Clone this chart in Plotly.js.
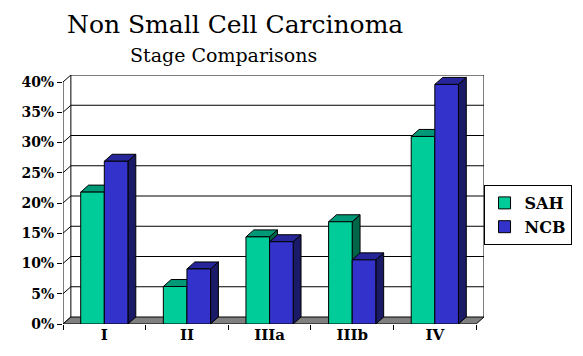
<!DOCTYPE html>
<html>
<head>
<meta charset="utf-8">
<script src="https://cdn.plot.ly/plotly-3.0.1.min.js"></script>
<style>html,body{margin:0;padding:0;background:#fff;}#chart{width:583px;height:356px;}</style>
</head>
<body>
<div id="chart"></div>
<script>
// ---- data ----
const categories = ['I', 'II', 'IIIa', 'IIIb', 'IV'];
const sahValues = [21.8, 6.2, 14.4, 16.9, 31.0];
const ncbValues = [26.9, 9.1, 13.6, 10.6, 39.6];
const yTickValues = [0, 5, 10, 15, 20, 25, 30, 35, 40];
const seriesNames = ['SAH', 'NCB'];

// ---- style ----
const FONT = '"DejaVu Serif", serif';
const sahFront = '#00CC99', sahTop = '#009977', sahSide = '#006647';
const ncbFront = '#3333CC', ncbTop = '#26269A', ncbSide = '#1A1A66';
const bargap = 0.4286;
const w = (1 - bargap) / 2;
const D = 8 / 84;
const H = 7 / 6.05;
const yMax = 40;
const xs = categories.map((c, i) => i);
const x0 = -0.5, x1 = categories.length - 0.5;

const shapes = [];
const L = {color: '#000', width: 1};
yTickValues.forEach(v => {
  if (v > 0) shapes.push({type: 'line', xref: 'x', yref: 'y', x0: x0 + D, x1: x1 + D, y0: v + H, y1: v + H, line: L, layer: 'below'});
});
shapes.push({type: 'line', xref: 'x', yref: 'y', x0: x0 + D, x1: x0 + D, y0: H, y1: yMax + H, line: L, layer: 'below'});
shapes.push({type: 'line', xref: 'x', yref: 'y', x0: x1 + D, x1: x1 + D, y0: H, y1: yMax + H, line: L, layer: 'below'});
yTickValues.forEach(v => {
  shapes.push({type: 'line', xref: 'x', yref: 'y', x0: x0, x1: x0 + D, y0: v, y1: v + H, line: L, layer: 'below'});
});
shapes.push({type: 'line', xref: 'x', yref: 'y', x0: x0, x1: x0, y0: 0, y1: yMax, line: L, layer: 'below'});
shapes.push({type: 'path', xref: 'x', yref: 'y',
  path: `M ${x0},0 L ${x1},0 L ${x1 + D},${H} L ${x0 + D},${H} Z`,
  fillcolor: '#808080', line: L, layer: 'below'});

function faces(left, right, v, topC, sideC) {
  shapes.push({type: 'path', xref: 'x', yref: 'y',
    path: `M ${right},0 L ${right},${v} L ${right + D},${v + H} L ${right + D},${H} Z`,
    fillcolor: sideC, line: L, layer: 'below'});
  shapes.push({type: 'path', xref: 'x', yref: 'y',
    path: `M ${left},${v} L ${right},${v} L ${right + D},${v + H} L ${left + D},${v + H} Z`,
    fillcolor: topC, line: L, layer: 'below'});
}
xs.forEach((x, i) => {
  faces(x - w, x, sahValues[i], sahTop, sahSide);
  faces(x, x + w, ncbValues[i], ncbTop, ncbSide);
});

const traces = [
  {type: 'bar', name: seriesNames[0], x: xs, y: sahValues, marker: {color: sahFront, line: {color: '#000', width: 1}}, hoverinfo: 'skip'},
  {type: 'bar', name: seriesNames[1], x: xs, y: ncbValues, marker: {color: ncbFront, line: {color: '#000', width: 1}}, hoverinfo: 'skip'}
];

const layout = {
  width: 583, height: 356,
  margin: {l: 63, r: 92, t: 75, b: 32, pad: 0},
  paper_bgcolor: '#fff', plot_bgcolor: '#fff',
  font: {family: FONT, color: '#000'},
  barmode: 'group', bargap: bargap, bargroupgap: 0,
  annotations: [
    {text: 'Non Small Cell Carcinoma', xref: 'paper', yref: 'paper', showarrow: false,
     x: (238 - 63) / 428, y: 1 + (75 - 24) / 249, xanchor: 'center', yanchor: 'middle',
     font: {family: FONT, size: 25, color: '#000'}},
    {text: 'Stage Comparisons', xref: 'paper', yref: 'paper', showarrow: false,
     x: (226 - 63) / 428, y: 1 + (75 - 55) / 249, xanchor: 'center', yanchor: 'middle',
     font: {family: FONT, size: 19, color: '#000'}}],
  xaxis: {type: 'linear', range: [x0, x1 + D], tickvals: xs, ticktext: categories,
    ticks: '', showgrid: false, zeroline: false, showline: false, fixedrange: true,
    tickfont: {family: FONT, size: 15, weight: 'bold', color: '#000'},
    minor: {tick0: -0.5, dtick: 1, ticks: 'outside', ticklen: 5, tickcolor: '#000', tickwidth: 1, showgrid: false}},
  yaxis: {range: [0, yMax + H], tickvals: yTickValues, ticktext: yTickValues.map(v => v + '%'),
    ticks: 'outside', ticklen: 5, tickcolor: '#000', tickwidth: 1,
    showgrid: false, zeroline: false, showline: false, fixedrange: true,
    tickfont: {family: FONT, size: 14, weight: 'bold', color: '#000'}},
  legend: {x: (580 - 63) / 428, y: (324 - 185) / 249, xanchor: 'right', yanchor: 'top',
    bordercolor: '#000', borderwidth: 1, bgcolor: '#fff', itemwidth: 30,
    font: {family: FONT, size: 16, weight: 'bold', color: '#000'}, traceorder: 'normal'},
  shapes: shapes,
  showlegend: true
};

Plotly.newPlot('chart', traces, layout, {staticPlot: true, displayModeBar: false});
</script>
</body>
</html>
